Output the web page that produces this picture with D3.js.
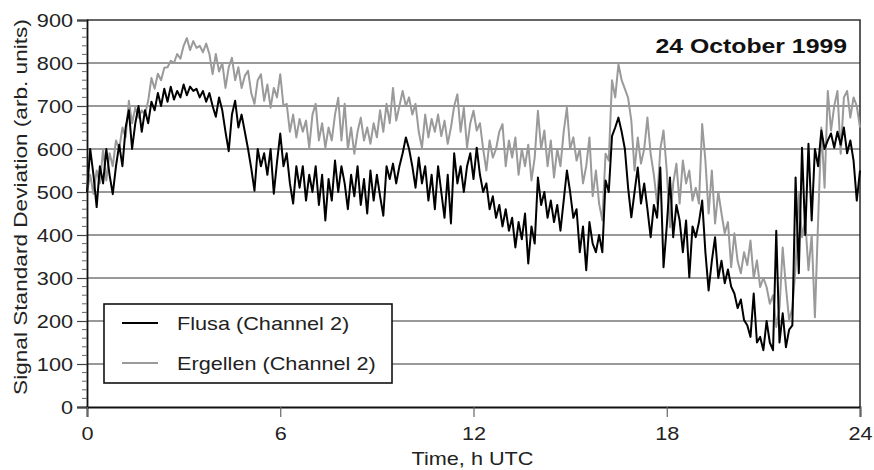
<!DOCTYPE html>
<html>
<head>
<meta charset="utf-8" />
<title>Signal Standard Deviation, 24 October 1999</title>
<style>
html, body{
	margin: 0px;
	padding: 0px;
	background: #fff;
}
text{
	font-family: "Liberation Sans", Arial, Helvetica, sans-serif;
}
</style>
</head>
<body>

<svg id="chart" width="874" height="470"></svg>

<script src="https://d3js.org/d3.v7.min.js"></script>

<script>

// time step 0.1 h, from 0 to 24 h UTC
var step = 0.1;

// Flusa (Channel 2)
var flusa = [
	500, 600, 540, 465, 560, 520, 600, 540, 495, 560,
	610, 560, 650, 690, 600, 660, 700, 640, 690, 660,
	710, 690, 730, 700, 740, 710, 745, 715, 735, 720,
	750, 725, 745, 735, 740, 720, 735, 710, 730, 700,
	675, 720, 690, 640, 595, 680, 712, 650, 680, 640,
	600, 555, 503, 600, 560, 590, 540, 600, 496, 570,
	636, 560, 590, 520, 473, 560, 510, 560, 480, 540,
	500, 560, 470, 540, 434, 530, 480, 573, 500, 560,
	520, 460, 540, 490, 560, 470, 530, 450, 550, 480,
	540, 490, 445, 560, 530, 566, 520, 560, 590, 627,
	600, 560, 510, 580, 520, 560, 480, 540, 460, 560,
	500, 440, 540, 427, 590, 520, 560, 500, 560, 590,
	530, 603, 540, 500, 520, 460, 490, 440, 470, 420,
	460, 410, 440, 371, 430, 390, 450, 334, 420, 380,
	534, 470, 500, 440, 480, 430, 470, 410, 480, 550,
	500, 440, 460, 360, 420, 318, 430, 380, 360, 400,
	360, 527, 500, 630, 650, 673, 640, 600, 510, 441,
	500, 557, 473, 520, 460, 395, 470, 440, 557, 325,
	420, 534, 395, 470, 434, 360, 434, 302, 420, 395,
	430, 480, 360, 271, 340, 395, 300, 340, 288, 320,
	280, 264, 230, 250, 202, 190, 163, 264, 150, 163,
	132, 200, 150, 132, 410, 150, 218, 139, 180, 190,
	534, 311, 603, 400, 612, 434, 600, 560, 643, 600,
	620, 636, 603, 640, 610, 650, 590, 620, 573, 480,
	550
];

// Ergellen (Channel 2)
var ergellen = [
	500, 540, 496, 550, 520, 600, 527, 590, 560, 620,
	600, 650, 627, 712, 660, 696, 673, 690, 680, 712,
	765, 740, 775, 760, 789, 790, 805, 800, 821, 810,
	840, 858, 830, 851, 835, 840, 825, 845, 821, 774,
	821, 780, 800, 742, 790, 812, 760, 790, 742, 770,
	782, 730, 705, 760, 774, 712, 750, 696, 742, 720,
	774, 700, 705, 640, 680, 627, 670, 640, 666, 603,
	680, 705, 620, 660, 603, 650, 620, 680, 719, 620,
	705, 600, 650, 589, 640, 673, 620, 650, 612, 660,
	627, 690, 640, 705, 660, 742, 666, 700, 735, 700,
	720, 680, 705, 640, 603, 680, 627, 670, 640, 680,
	630, 666, 612, 650, 700, 727, 640, 696, 603, 660,
	689, 643, 660, 600, 550, 620, 580, 600, 640, 658,
	560, 620, 580, 627, 540, 600, 560, 610, 527, 580,
	689, 600, 643, 560, 620, 534, 600, 560, 640, 696,
	600, 627, 573, 600, 520, 560, 627, 490, 550, 473,
	434, 589, 573, 760, 720, 797, 760, 740, 719, 666,
	550, 627, 566, 600, 673, 589, 540, 473, 600, 643,
	550, 418, 520, 566, 473, 573, 520, 550, 480, 510,
	473, 658, 573, 450, 550, 427, 500, 450, 404, 430,
	325, 404, 340, 311, 360, 330, 387, 300, 341, 279,
	300, 279, 240, 260, 186, 230, 371, 279, 202, 230,
	325, 496, 395, 434, 318, 400, 209, 434, 650, 510,
	735, 643, 700, 735, 589, 720, 735, 673, 720, 700,
	650
];

var xTicks = [0, 6, 12, 18, 24];
var yTicks = [0, 100, 200, 300, 400, 500, 600, 700, 800, 900];
var legendLabels = ["Flusa (Channel 2)", "Ergellen (Channel 2)"];
var title = "24 October 1999";

var svg = d3.select("#chart");

var x = d3.scaleLinear().domain([0, 24]).range([87, 860]);
var y = d3.scaleLinear().domain([0, 900]).range([407, 20]);

// the lettering of the original is a little wider than Liberation Sans
function widen(sel, k){
	sel.each(function(){
		var len = this.getComputedTextLength();
		d3.select(this)
			.attr("textLength", len * k)
			.attr("lengthAdjust", "spacingAndGlyphs");
	});
}

// grid lines
svg.append("g")
	.selectAll("line")
	.data(yTicks.filter(function(d){ return d > 0 && d < 900; }))
	.enter()
	.append("line")
		.attr("x1", x(0))
		.attr("x2", x(24))
		.attr("y1", function(d){ return y(d); })
		.attr("y2", function(d){ return y(d); })
		.attr("stroke", "#777")
		.attr("stroke-width", 1.6);

// frame top / right
svg.append("path")
	.attr("d", "M" + x(0) + "," + y(900) + "H" + x(24) + "V" + y(0))
	.attr("fill", "none")
	.attr("stroke", "#333")
	.attr("stroke-width", 1.6);

// series
var line = d3.line()
	.x(function(d, i){ return x(i * step); })
	.y(function(d){ return y(d); });

svg.append("path")
	.datum(ergellen)
	.attr("d", line)
	.attr("fill", "none")
	.attr("stroke", "#9a9a9a")
	.attr("stroke-width", 2)
	.attr("stroke-linejoin", "round");

svg.append("path")
	.datum(flusa)
	.attr("d", line)
	.attr("fill", "none")
	.attr("stroke", "#000")
	.attr("stroke-width", 2)
	.attr("stroke-linejoin", "round");

// y axis with minor ticks
var yAxis = d3.axisLeft(y).tickValues(yTicks).tickSize(10).tickPadding(4);
var gy = svg.append("g")
	.attr("transform", "translate(" + x(0) + ",0)")
	.call(yAxis);
gy.select(".domain").attr("stroke", "#111").attr("stroke-width", 1.8);
gy.selectAll(".tick line").attr("stroke", "#444").attr("stroke-width", 1.2);
gy.selectAll(".tick text")
	.attr("font-size", 19)
	.attr("fill", "#222")
	.call(widen, 1.14);

var minor = d3.range(0, 901, 20).filter(function(d){ return d % 100 !== 0; });
svg.append("g")
	.selectAll("line")
	.data(minor)
	.enter()
	.append("line")
		.attr("x1", x(0) - 5)
		.attr("x2", x(0))
		.attr("y1", function(d){ return y(d); })
		.attr("y2", function(d){ return y(d); })
		.attr("stroke", "#666")
		.attr("stroke-width", 1);

// x axis
var xAxis = d3.axisBottom(x).tickValues(xTicks).tickSize(10).tickPadding(10);
var gx = svg.append("g")
	.attr("transform", "translate(0," + y(0) + ")")
	.call(xAxis);
gx.select(".domain").attr("stroke", "#111").attr("stroke-width", 1.8);
gx.selectAll(".tick line").attr("stroke", "#666").attr("stroke-width", 1.2);
gx.selectAll(".tick text")
	.attr("font-size", 19)
	.attr("fill", "#222")
	.call(widen, 1.14);

// axis titles
svg.append("text")
	.attr("x", (x(0) + x(24)) / 2 - 1)
	.attr("y", 465)
	.attr("text-anchor", "middle")
	.attr("font-size", 19)
	.attr("fill", "#222")
	.text("Time, h UTC")
	.call(widen, 1.14);

svg.append("text")
	.attr("transform", "translate(27," + 207 + ") rotate(-90)")
	.attr("text-anchor", "middle")
	.attr("font-size", 19)
	.attr("fill", "#222")
	.text("Signal Standard Deviation (arb. units)")
	.call(widen, 1.19);

// title
svg.append("text")
	.attr("x", 847)
	.attr("y", 53)
	.attr("text-anchor", "end")
	.attr("font-size", 21)
	.attr("font-weight", "bold")
	.attr("fill", "#111")
	.text(title)
	.call(widen, 1.18);

// legend
var lg = svg.append("g");
lg.append("rect")
	.attr("x", 104)
	.attr("y", 304)
	.attr("width", 288)
	.attr("height", 79)
	.attr("fill", "#fff")
	.attr("stroke", "#111")
	.attr("stroke-width", 1.6);

var legendColors = ["#000", "#9a9a9a"];
legendLabels.forEach(function(lab, i){
	var ly = 323 + i * 40;
	lg.append("line")
		.attr("x1", 122).attr("x2", 158)
		.attr("y1", ly).attr("y2", ly)
		.attr("stroke", legendColors[i])
		.attr("stroke-width", 1.8);
	lg.append("text")
		.attr("x", 177)
		.attr("y", ly + 7)
		.attr("font-size", 19)
		.attr("fill", "#222")
		.text(lab)
		.call(widen, 1.14);
});

</script>
</body>
</html>
